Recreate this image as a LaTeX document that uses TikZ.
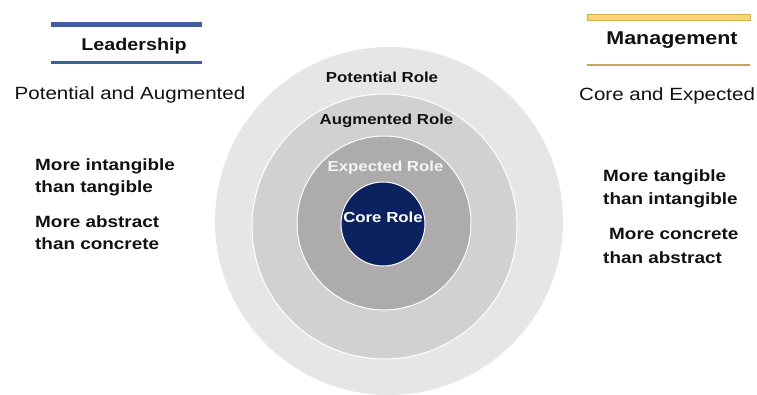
\documentclass[tikz,border=0pt]{standalone}
\usepackage{fontspec}
\setmainfont{Liberation Sans}[FakeStretch=1.16]
\definecolor{ringA}{HTML}{E6E6E6}
\definecolor{ringB}{HTML}{D1D1D1}
\definecolor{ringC}{HTML}{ADABAB}
\definecolor{coreblue}{HTML}{0B2160}
\definecolor{barblue}{HTML}{3F5E9E}
\definecolor{baryellow}{HTML}{F7D774}
\definecolor{baryedge}{HTML}{D2B24C}
\definecolor{txt}{HTML}{111111}
\begin{document}
\begin{tikzpicture}[x=1pt,y=-1pt,
  ring/.style={draw=white,line width=1pt},
  head/.style={inner sep=0pt,anchor=base,text=txt,font=\fontsize{17}{20}\selectfont\bfseries},
  sub/.style={inner sep=0pt,anchor=base west,text=txt,font=\fontsize{17.7}{20}\selectfont},
  point/.style={inner sep=0pt,anchor=base west,text=txt,font=\fontsize{16.3}{19}\selectfont\bfseries},
  role/.style={inner sep=0pt,anchor=base,font=\fontsize{14.5}{17}\selectfont\bfseries}]
\useasboundingbox[fill=white] (0,0) rectangle (757,395);
% circles
\fill[ringA] (389,221) circle[radius=174];
\filldraw[ring,fill=ringB] (384.5,226.5) circle[radius=132.5];
\filldraw[ring,fill=ringC] (384,223) circle[radius=87];
\filldraw[ring,fill=coreblue] (383,224) circle[radius=42];
% role labels
\node[role,text=txt] (potrole) at (382,83) {Potential Role};
\node[role,text=txt] (augrole) at (386.5,125) {Augmented Role};
\node[role,text=white!96!black] (exprole) at (385.5,172) {Expected Role};
\node[role,text=white] (corerole) at (383,222.5) {Core Role};
% Leadership header
\fill[barblue] (51,22.5) rectangle (202,27.3);
\fill[barblue] (51,61.2) rectangle (202,64.2);
\node[head] (lead) at (134,51) {Leadership};
% Management header
\filldraw[fill=baryellow,draw=baryedge,line width=0.8pt] (587,14) rectangle (750,20.5);
\draw[baryedge!80!gray,line width=1.4pt] (587,65) -- (750,65);
\node[head,font=\fontsize{18.5}{21}\selectfont\bfseries] (mgmt) at (672,44.5) {Management};
% subtitles
\node[sub] (lsub) at (14.5,100) {Potential and Augmented};
\node[sub] (rsub) at (579,101) {Core and Expected};
% left points
\node[point] (l1) at (35,171) {More intangible};
\node[point] (l2) at (35,193) {than tangible};
\node[point] (l3) at (35,228) {More abstract};
\node[point] (l4) at (35,250) {than concrete};
% right points
\node[point] (r1) at (603,182) {More tangible};
\node[point] (r2) at (603,205) {than intangible};
\node[point] (r3) at (609,240) {More concrete};
\node[point] (r4) at (603,263) {than abstract};
\end{tikzpicture}
\end{document}
